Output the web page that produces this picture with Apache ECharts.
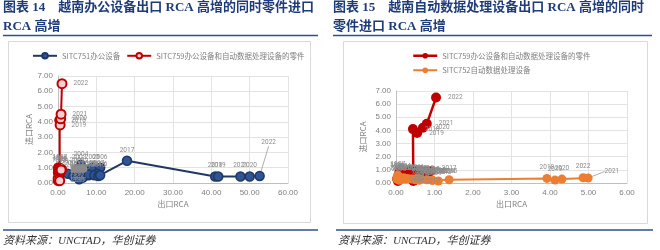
<!DOCTYPE html>
<html><head><meta charset="utf-8">
<script src="https://cdn.jsdelivr.net/npm/echarts@6/dist/echarts.min.js"></script>
<style>html,body{margin:0;padding:0;background:#fff}#c{width:660px;height:250px}</style>
</head><body><div id="c"></div>
<script>
const years = [1995,1996,1997,1998,1999,2000,2001,2002,2003,2004,2005,2006,2007,2008,2009,2010,2011,2012,2013,2014,2015,2016,2017,2018,2019,2020,2021,2022];
// SITC751 office equipment: export RCA (x), import RCA (y)
const blueX = [0.3,0.4,0.5,0.6,0.9,2.6,4.0,5.0,5.5,6.0,8.9,11.0,10.2,8.0,6.5,5.5,5.0,6.0,8.0,9.5,10.5,11.0,18.0,41.0,41.8,50.0,47.6,52.6];
const blueY = [0.75,0.9,1.0,0.85,0.7,0.6,0.45,0.8,1.0,1.2,1.0,1.0,0.6,0.5,0.35,0.25,0.5,0.7,0.55,0.5,0.45,0.5,1.45,0.42,0.42,0.42,0.42,0.46];
// SITC759 parts of office & ADP machines
const redX = [0.05,0.03,0.08,0.10,0.12,0.15,0.20,0.25,0.30,0.35,0.40,0.45,0.50,0.55,0.50,0.60,0.65,0.70,0.75,0.85,0.90,0.82,0.45,0.44,0.55,0.70,0.80,1.04];
const redY = [0.15,0.3,0.7,0.9,1.0,0.8,0.6,0.75,0.9,0.85,0.95,0.8,0.9,0.85,0.75,0.8,0.9,0.85,0.8,0.85,0.9,0.85,0.15,4.1,3.8,4.2,4.5,6.5];
// SITC752 automatic data processing machines
const orangeX = [0.02,0.03,0.05,0.04,0.06,0.08,0.10,0.12,0.15,0.20,0.25,0.30,0.40,0.50,0.60,0.50,0.55,0.65,0.80,0.95,1.10,0.94,1.38,3.92,4.13,4.31,4.99,4.86];
const orangeY = [0.3,0.5,0.6,0.4,0.3,0.2,0.25,0.35,0.3,0.4,0.3,0.35,0.3,0.25,0.2,0.3,0.35,0.3,0.25,0.2,0.15,0.2,0.25,0.35,0.22,0.3,0.38,0.4];

const name751 = 'SITC751办公设备';
const name759 = 'SITC759办公设备和自动数据处理设备的零件';
const name752 = 'SITC752自动数据处理设备';

function pairs(xs, ys, special) {
  return years.map((y, i) => {
    const d = {name: String(y), value: [xs[i], ys[i]]};
    if (special && special === y) d.labelLine = {show: true, lineStyle: {color: '#9a9a9a', width: 0.8}};
    return d;
  });
}

const labelBase = {show: true, fontSize: 6.5, color: '#8c8c8c', formatter: '{b}', fontFamily: 'Roboto'};
const gray = '#7f7f7f';
function xAx(grid, max) {
  return {gridIndex: grid, type: 'value', min: 0, max: max, interval: max / 6,
    name: '出口RCA', nameLocation: 'middle', nameGap: 17,
    nameTextStyle: {fontSize: 8, color: gray, fontFamily: 'Noto Sans CJK SC'},
    axisLine: {show: true, lineStyle: {color: '#bfbfbf', width: 1}},
    axisTick: {show: false},
    axisLabel: {fontSize: 8, color: gray, margin: 6, formatter: v => v.toFixed(2)},
    splitLine: {show: true, lineStyle: {color: '#e3e3e3', width: 1}}};
}
function yAx(grid, gap) {
  return {gridIndex: grid, type: 'value', min: 0, max: 7, interval: 1,
    name: '进口RCA', nameLocation: 'middle', nameGap: gap,
    nameTextStyle: {fontSize: 8, color: gray, fontFamily: 'Noto Sans CJK SC'},
    axisLine: {show: true, lineStyle: {color: '#bfbfbf', width: 1}},
    axisTick: {show: false},
    axisLabel: {fontSize: 8, color: gray, margin: 5, formatter: v => v.toFixed(2)},
    splitLine: {show: true, lineStyle: {color: '#e3e3e3', width: 1}}};
}

const titleStyle = {fontSize: 13, fontWeight: 'bold', color: '#1f3c7a', lineHeight: 19,
  fontFamily: "'Liberation Serif', 'Noto Sans CJK SC'"};
const footStyle = {fontSize: 11, fontWeight: 'normal', fontStyle: 'italic', color: '#333333',
  fontFamily: "'Liberation Serif', 'Noto Sans CJK SC'"};

const chart = echarts.init(document.getElementById('c'), null, {renderer: 'canvas'});
chart.setOption({
  animation: false,
  backgroundColor: '#ffffff',
  title: [
    {text: '图表 14　越南办公设备出口 RCA 高增的同时零件进口\nRCA 高增', left: 3, top: -2, padding: 0, textStyle: titleStyle},
    {text: '图表 15　越南自动数据处理设备出口 RCA 高增的同时\n零件进口 RCA 高增', left: 333, top: -2, padding: 0, textStyle: titleStyle},
    {text: '资料来源：UNCTAD，华创证券', left: 3, top: 236, padding: 0, textStyle: footStyle},
    {text: '资料来源：UNCTAD，华创证券', left: 338, top: 236, padding: 0, textStyle: footStyle}
  ],
  graphic: [
    {type: 'line', shape: {x1: 3, y1: 35.5, x2: 318, y2: 35.5}, style: {stroke: '#2f4f8f', lineWidth: 1.6}},
    {type: 'line', shape: {x1: 333, y1: 35.5, x2: 652, y2: 35.5}, style: {stroke: '#2f4f8f', lineWidth: 1.6}},
    {type: 'line', shape: {x1: 3, y1: 230, x2: 318, y2: 230}, style: {stroke: '#2f4f8f', lineWidth: 1.6}},
    {type: 'line', shape: {x1: 336, y1: 230, x2: 653, y2: 230}, style: {stroke: '#2f4f8f', lineWidth: 1.6}},
    {type: 'rect', shape: {x: 8.5, y: 41.5, width: 302, height: 181}, style: {stroke: '#d9d9d9', fill: 'none', lineWidth: 1}},
    {type: 'rect', shape: {x: 343.5, y: 41.5, width: 304, height: 182}, style: {stroke: '#d9d9d9', fill: 'none', lineWidth: 1}}
  ],
  legend: [
    {data: [name751, name759], left: 32, top: 52, itemWidth: 24, itemHeight: 7, itemGap: 6, padding: 0,
      textStyle: {fontSize: 7.5, color: gray, fontFamily: 'Noto Sans CJK SC'}},
    {data: [
        {name: name759, itemStyle: {color: '#c00000', borderColor: '#c00000', borderWidth: 0}, lineStyle: {color: '#c00000', width: 2.5}},
        name752],
      orient: 'vertical', left: 412, top: 52, itemWidth: 24, itemHeight: 7, itemGap: 7, padding: 0,
      textStyle: {fontSize: 7.5, color: gray, fontFamily: 'Noto Sans CJK SC'}}
  ],
  grid: [
    {left: 58, right: 372, top: 76, bottom: 67},
    {left: 396, right: 33, top: 91, bottom: 67}
  ],
  xAxis: [xAx(0, 60), xAx(1, 6)],
  yAxis: [yAx(0, 25), yAx(1, 29)],
  series: [
    {name: name751, type: 'line', xAxisIndex: 0, yAxisIndex: 0, data: pairs(blueX, blueY, 2022),
      symbol: 'circle', symbolSize: 9,
      lineStyle: {color: '#1f3864', width: 2},
      itemStyle: {color: '#2f5597', borderColor: '#1f3864', borderWidth: 1.5},
      label: Object.assign({}, labelBase, {position: 'top', distance: 2}),
      labelLayout: function (p) {
        if (p.dataIndex === years.length - 1) {
          return {x: p.rect.x + p.rect.width / 2 + 9, y: p.rect.y - 28, align: 'center', verticalAlign: 'middle'};
        }
      }},
    {name: name759, type: 'line', xAxisIndex: 0, yAxisIndex: 0, data: pairs(redX, redY),
      symbol: 'circle', symbolSize: 9,
      lineStyle: {color: '#c00000', width: 2},
      itemStyle: {color: '#f6d0d0', borderColor: '#c00000', borderWidth: 2},
      label: Object.assign({}, labelBase, {position: 'right', distance: 6})},
    {name: name759, type: 'line', xAxisIndex: 1, yAxisIndex: 1, data: pairs(redX, redY),
      symbol: 'circle', symbolSize: 10,
      lineStyle: {color: '#c00000', width: 2.5},
      itemStyle: {color: '#c00000', borderWidth: 0},
      label: Object.assign({}, labelBase, {position: 'right', distance: 7})},
    {name: name752, type: 'line', xAxisIndex: 1, yAxisIndex: 1, data: pairs(orangeX, orangeY, 2021),
      symbol: 'circle', symbolSize: 9,
      lineStyle: {color: '#ed7d31', width: 2},
      itemStyle: {color: '#ed7d31', borderWidth: 0},
      label: Object.assign({}, labelBase, {position: 'top', distance: 3}),
      labelLayout: function (p) {
        if (p.dataIndex === years.length - 2) {
          return {x: p.rect.x + p.rect.width + 12, y: p.rect.y - 2, align: 'left', verticalAlign: 'middle'};
        }
      }}
  ]
});
</script>
</body></html>
